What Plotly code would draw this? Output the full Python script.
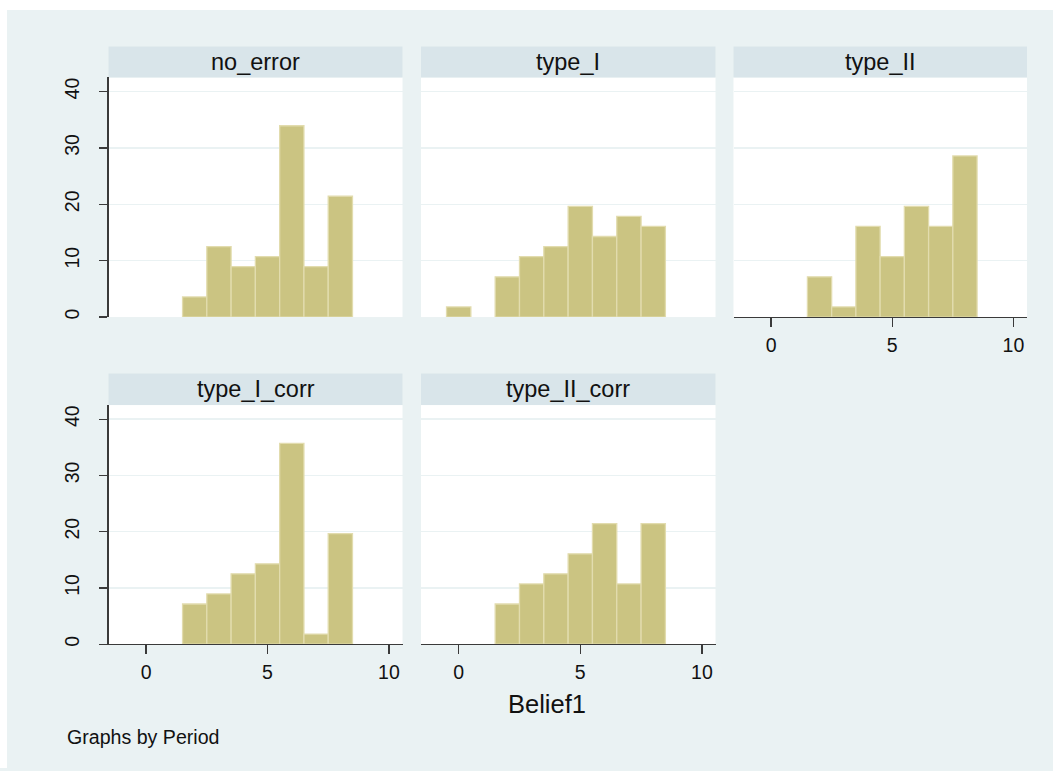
import plotly.graph_objects as go

# ---------------- data (percent of observations per Belief1 value) ----------------
belief_bins = [0, 1, 2, 3, 4, 5, 6, 7, 8]
panel_names = ["no_error", "type_I", "type_II", "type_I_corr", "type_II_corr"]

no_error = [None, None, 3.57, 12.50, 8.93, 10.71, 33.93, 8.93, 21.43]
type_I = [1.79, None, 7.14, 10.71, 12.50, 19.64, 14.29, 17.86, 16.07]
type_II = [None, None, 7.14, 1.79, 16.07, 10.71, 19.64, 16.07, 28.57]
type_I_corr = [None, None, 7.14, 8.93, 12.50, 14.29, 35.71, 1.79, 19.64]
type_II_corr = [None, None, 7.14, 10.71, 12.50, 16.07, 21.43, 10.71, 21.43]

series = [no_error, type_I, type_II, type_I_corr, type_II_corr]

x_ticks = [0, 5, 10]
y_ticks = [0, 10, 20, 30, 40]
x_title = "Belief1"
note = "Graphs by Period"

# ---------------- layout geometry (page pixels) ----------------
W, H = 1053, 771
cols_px = [(108.5, 402.5), (421.0, 715.5), (733.5, 1027.0)]
rows_plot_px = [(77.7, 318.3), (406.7, 646.7)]
rows_head_px = [(46.7, 77.7), (375.0, 406.7)]
positions = [(0, 0), (0, 1), (0, 2), (1, 0), (1, 1)]

BG = "#EAF2F3"
HEAD = "#D9E5EA"
BAR = "#CBC482"
BAR_EDGE = "#E2DCAE"
AXIS = "#3a3a3a"
FONT = "Liberation Sans, Arial, sans-serif"


def px_x(p):
    return p / W


def px_y(p):
    return 1 - p / H


fig = go.Figure()
shapes = []
annotations = []

for i, (name, vals) in enumerate(zip(panel_names, series)):
    r, c = positions[i]
    k = "" if i == 0 else str(i + 1)
    fig.add_trace(go.Bar(
        x=belief_bins, y=vals, width=1,
        marker=dict(color=BAR, line=dict(color=BAR_EDGE, width=1.3)),
        xaxis="x" + k, yaxis="y" + k, showlegend=False, hoverinfo="x+y",
    ))
    x0, x1 = cols_px[c]
    yt, yb = rows_plot_px[r]
    show_x = (r == 1) or (c == 2)
    show_y = (c == 0)
    fig.layout["xaxis" + k] = dict(
        domain=[px_x(x0), px_x(x1)], anchor="y" + k,
        range=[-1.55, 10.56], tickvals=x_ticks,
        showgrid=False, zeroline=False,
        showline=show_x, linecolor=AXIS, linewidth=1.3,
        ticks="outside" if show_x else "", ticklen=9, tickcolor=AXIS, tickwidth=1.3,
        showticklabels=show_x, ticklabelstandoff=1,
        tickfont=dict(family=FONT, size=19.5, color="#111111"),
        fixedrange=True,
    )
    fig.layout["yaxis" + k] = dict(
        domain=[px_y(yb), px_y(yt)], anchor="x" + k,
        range=[0, 42.5], tickvals=y_ticks if show_y else y_ticks[1:],
        showgrid=True, gridcolor=BG, gridwidth=1.5, zeroline=False,
        showline=show_y, linecolor=AXIS, linewidth=1.3,
        ticks="outside" if show_y else "", ticklen=8, tickcolor=AXIS, tickwidth=1.3,
        showticklabels=show_y, tickangle=-90, ticklabelstandoff=12,
        tickfont=dict(family=FONT, size=19.5, color="#111111"),
        fixedrange=True,
    )
    ht, hb = rows_head_px[r]
    shapes.append(dict(
        type="rect", xref="paper", yref="paper",
        x0=px_x(x0), x1=px_x(x1), y0=px_y(hb), y1=px_y(ht),
        fillcolor=HEAD, line=dict(width=0), layer="below",
    ))
    annotations.append(dict(
        text=name, xref="paper", yref="paper",
        x=px_x((x0 + x1) / 2), y=px_y((ht + hb) / 2),
        xanchor="center", yanchor="middle", showarrow=False,
        font=dict(family=FONT, size=23.5, color="#111111"),
    ))

# white strips at the top and left edges of the image
shapes.append(dict(type="rect", xref="paper", yref="paper", x0=0, x1=1,
                   y0=px_y(10), y1=1, fillcolor="white", line=dict(width=0), layer="below"))
shapes.append(dict(type="rect", xref="paper", yref="paper", x0=0, x1=px_x(7),
                   y0=0, y1=1, fillcolor="white", line=dict(width=0), layer="below"))

annotations.append(dict(
    text=x_title, xref="paper", yref="paper", x=px_x(547), y=px_y(707),
    xanchor="center", yanchor="middle", showarrow=False,
    font=dict(family=FONT, size=25.5, color="#111111"),
))
annotations.append(dict(
    text=note, xref="paper", yref="paper", x=px_x(65), y=px_y(740),
    xanchor="left", yanchor="middle", showarrow=False,
    font=dict(family=FONT, size=19.6, color="#111111"),
))

fig.update_layout(
    width=W, height=H, margin=dict(l=0, r=0, t=0, b=0),
    paper_bgcolor=BG, plot_bgcolor="white",
    bargap=0, showlegend=False,
    shapes=shapes, annotations=annotations,
    font=dict(family=FONT),
)

fig.write_html(
    "out.html",
    config={"displayModeBar": False, "staticPlot": True},
    post_script="document.body.style.margin='0';document.body.style.overflow='hidden';",
)
